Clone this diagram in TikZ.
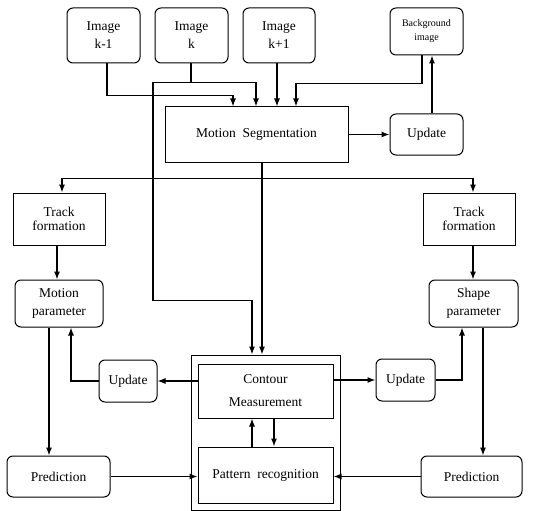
\documentclass[tikz,border=0pt]{standalone}
\usepackage{fontspec}
\setmainfont{Liberation Serif}
\usetikzlibrary{arrows.meta,calc}

\begin{document}
\begin{tikzpicture}[x=1pt, y=-1pt, >={Latex[length=8pt,width=6pt]},
    every node/.style={font=\fontsize{13.5}{18}\selectfont, align=center, inner sep=0pt},
    rbox/.style={draw, line width=1pt, rounded corners=6pt},
    sbox/.style={draw, line width=1pt},
    conn/.style={line width=1.1pt, ->}]

    \useasboundingbox (0,0) rectangle (536,511);

    %Image inputs
    \node[rbox, minimum width=73pt, minimum height=55pt] (imgA) at (103.5,35.5) {Image\\k-1}; %Previous
    \node[rbox, minimum width=73pt, minimum height=55pt] (imgB) at (191.5,35.5) {Image\\k};   %Current
    \node[rbox, minimum width=72pt, minimum height=55pt] (imgC) at (279,35.5) {Image\\k+1};   %Next
    \node[rbox, minimum width=73pt, minimum height=47pt, font=\fontsize{10}{14}\selectfont] (bgimg) at (426.5,31.5) {Background\\image};

    %Segmentation row
    \node[sbox, minimum width=183pt, minimum height=55pt] (mseg) at (256.5,134.5) {Motion\ \ Segmentation};
    \node[rbox, minimum width=73pt, minimum height=41pt] (upd) at (426.5,134.5) {Update};

    %Track formation and parameters
    \node[sbox, minimum width=92pt, minimum height=52pt] (trkL) at (59,219) {Track\\[-4pt]formation};     %Left
    \node[sbox, minimum width=92pt, minimum height=52pt] (trkR) at (469,219) {Track\\[-4pt]formation};    %Right
    \node[rbox, minimum width=88pt, minimum height=47pt] (mpar) at (59,303.5) {Motion\\parameter};       %Left
    \node[rbox, minimum width=89pt, minimum height=47pt] (spar) at (473.5,303.5) {Shape\\parameter};     %Right

    %Measurement block
    \node[sbox, minimum width=149pt, minimum height=155pt] (outer) at (265.5,432.5) {};
    \node[sbox, minimum width=135pt, minimum height=54pt] (cont) at (265.5,391) {Contour\\[5pt]Measurement};
    \node[sbox, minimum width=135pt, minimum height=56pt] (patt) at (265.5,475) {Pattern\ \ recognition};
    \node[rbox, minimum width=58pt, minimum height=42pt] (updL) at (128,381) {Update};   %Left
    \node[rbox, minimum width=59pt, minimum height=42pt] (updR) at (405.5,380) {Update}; %Right

    %Predictions
    \node[rbox, minimum width=103pt, minimum height=41pt] (predL) at (58.5,476.5) {Prediction}; %Left
    \node[rbox, minimum width=101pt, minimum height=41pt] (predR) at (471.5,476.5) {Prediction}; %Right

    %Images to segmentation
    \draw[conn] ([xshift=3.5pt]imgA.south) -- ++(0,32) -| ([xshift=-23.5pt]mseg.north);
    \draw[conn] ([xshift=-0.5pt]imgB.south) -- ++(0,19) -| ([xshift=-0.5pt]mseg.north);
    \draw[conn] ([xshift=-2pt]imgC.south) -- ([xshift=20.5pt]mseg.north);
    \draw[conn] ([xshift=-4.5pt]bgimg.south) -- ++(0,28) -| ([xshift=39.5pt]mseg.north);
    \draw[conn] ([xshift=-0.5pt]imgB.south) ++(0,19) -- ++(-38,0) -- ++(0,218) -| ([xshift=-13.5pt]outer.north); %Long way down

    %Background update
    \draw[conn] (mseg.east) -- (upd.west);
    \draw[conn] ([xshift=5.5pt]upd.north) -- ([xshift=5.5pt]bgimg.south);

    %Segmentation outputs
    \draw[conn] ([xshift=5.5pt]mseg.south) -- ([xshift=-3.5pt]outer.north);
    \draw[conn] ([xshift=5.5pt]mseg.south) ++(0,16) -| ([xshift=3pt]trkL.north);
    \draw[conn] ([xshift=5.5pt]mseg.south) ++(0,16) -| ([xshift=4pt]trkR.north);

    %Left chain
    \draw[conn] ([xshift=-2pt]trkL.south) -- ([xshift=-2pt]mpar.north);
    \draw[conn] ([xshift=-10pt]mpar.south) -- ([xshift=-9.5pt]predL.north);
    \draw[conn] (updL.west) -| ([xshift=12pt]mpar.south);
    \draw[conn] (cont.west |- updL.east) -- (updL.east);

    %Right chain
    \draw[conn] ([xshift=4pt]trkR.south) -- ([xshift=-0.5pt]spar.north);
    \draw[conn] ([xshift=9.5pt]spar.south) -- ([xshift=11.5pt]predR.north);
    \draw[conn] (updR.east) -| ([xshift=-11.5pt]spar.south);
    \draw[conn] (cont.east |- updR.west) -- (updR.west);

    %Contour and pattern
    \draw[conn] ([xshift=-13.5pt]patt.north) -- ([xshift=-13.5pt]cont.south);
    \draw[conn] ([xshift=8.5pt]cont.south) -- ([xshift=8.5pt]patt.north);
    \draw[conn] (predL.east) -- (predL.east -| patt.west);
    \draw[conn] (predR.west) -- (predR.west -| patt.east);

\end{tikzpicture}
\end{document}
